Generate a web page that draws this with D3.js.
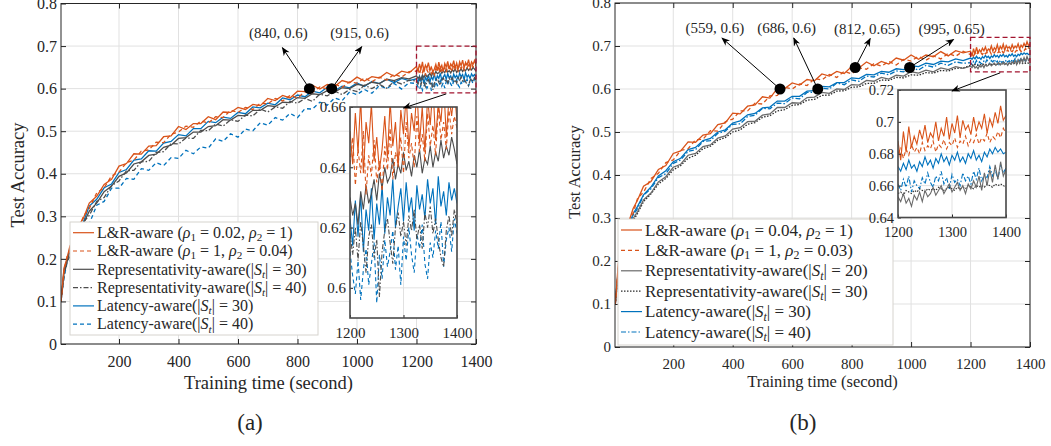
<!DOCTYPE html>
<html>
<head>
<meta charset="utf-8">
<script src="https://cdn.jsdelivr.net/npm/d3@7"></script>
<style>
body { margin: 0; background: #fff; }
svg { display: block; }
text { font-family: "Liberation Serif", "Times New Roman", serif; fill: #262626; }
</style>
</head>
<body>
<svg id="fig" width="1051" height="446"></svg>
<script>
// time axis (seconds)
var tMain = [5,15,25,35,50,65,80,100,125,150,175,200,225,250,275,300,325,350,375,400,425,450,475,500,525,550,575,600,625,650,675,700,725,750,775,800,825,850,875,900,925,950,975,1000,1025,1050,1075,1100,1125,1150,1175];
var tZoom = [1200,1205,1210,1215,1220,1225,1230,1235,1240,1245,1250,1255,1260,1265,1270,1275,1280,1285,1290,1295,1300,1305,1310,1315,1320,1325,1330,1335,1340,1345,1350,1355,1360,1365,1370,1375,1380,1385,1390,1395,1400];

// panel (a)
var aR1 = [0.100,0.178,0.201,0.230,0.248,0.279,0.295,0.331,0.347,0.375,0.387,0.418,0.424,0.447,0.446,0.465,0.466,0.487,0.489,0.511,0.504,0.518,0.518,0.534,0.527,0.545,0.544,0.556,0.551,0.563,0.560,0.577,0.572,0.584,0.578,0.594,0.593,0.608,0.599,0.610,0.605,0.619,0.614,0.627,0.618,0.628,0.625,0.638,0.629,0.641,0.637];
var aR2 = [0.100,0.170,0.205,0.219,0.251,0.269,0.300,0.318,0.355,0.367,0.395,0.404,0.426,0.432,0.453,0.456,0.474,0.473,0.493,0.498,0.512,0.509,0.524,0.519,0.534,0.532,0.549,0.544,0.556,0.551,0.566,0.564,0.577,0.571,0.584,0.578,0.593,0.591,0.604,0.599,0.611,0.603,0.616,0.613,0.625,0.616,0.627,0.620,0.634,0.627,0.640];
var aG1 = [0.100,0.167,0.192,0.218,0.236,0.266,0.282,0.312,0.331,0.358,0.371,0.394,0.402,0.423,0.428,0.443,0.446,0.462,0.467,0.483,0.485,0.498,0.498,0.511,0.513,0.527,0.526,0.537,0.536,0.549,0.549,0.560,0.558,0.568,0.567,0.579,0.577,0.588,0.586,0.595,0.592,0.602,0.600,0.610,0.607,0.615,0.612,0.622,0.619,0.626,0.623];
var aG2 = [0.100,0.159,0.194,0.205,0.236,0.253,0.286,0.302,0.335,0.344,0.372,0.383,0.407,0.408,0.428,0.429,0.450,0.452,0.471,0.470,0.484,0.483,0.502,0.501,0.517,0.512,0.527,0.523,0.538,0.536,0.552,0.545,0.557,0.554,0.570,0.566,0.577,0.570,0.587,0.583,0.594,0.586,0.598,0.593,0.608,0.600,0.610,0.601,0.617,0.611,0.620];
var aB1 = [0.100,0.174,0.197,0.225,0.239,0.271,0.286,0.324,0.340,0.367,0.376,0.403,0.410,0.432,0.435,0.454,0.453,0.472,0.476,0.492,0.489,0.506,0.506,0.523,0.520,0.533,0.530,0.544,0.541,0.557,0.555,0.566,0.562,0.578,0.574,0.585,0.581,0.594,0.590,0.603,0.595,0.606,0.602,0.613,0.605,0.617,0.612,0.622,0.614,0.624,0.619];
var aB2 = [0.100,0.156,0.190,0.194,0.224,0.233,0.267,0.282,0.326,0.335,0.366,0.366,0.389,0.387,0.412,0.408,0.426,0.419,0.438,0.436,0.455,0.447,0.463,0.460,0.482,0.476,0.494,0.486,0.505,0.501,0.520,0.514,0.532,0.526,0.542,0.532,0.553,0.552,0.568,0.561,0.578,0.572,0.592,0.586,0.598,0.589,0.607,0.600,0.612,0.599,0.614];
var aR1z = [0.652,0.641,0.658,0.645,0.663,0.638,0.655,0.648,0.661,0.642,0.650,0.639,0.646,0.657,0.643,0.662,0.647,0.655,0.640,0.659,0.651,0.664,0.646,0.658,0.652,0.666,0.648,0.660,0.645,0.663,0.654,0.667,0.649,0.661,0.655,0.668,0.650,0.663,0.657,0.666,0.655];
var aR2z = [0.641,0.650,0.634,0.646,0.638,0.652,0.631,0.644,0.637,0.649,0.635,0.642,0.632,0.647,0.639,0.653,0.636,0.645,0.641,0.650,0.638,0.655,0.643,0.648,0.640,0.657,0.645,0.651,0.642,0.658,0.647,0.654,0.644,0.660,0.649,0.655,0.646,0.659,0.651,0.657,0.653];
var aG1z = [0.630,0.624,0.628,0.621,0.632,0.626,0.634,0.628,0.631,0.636,0.629,0.638,0.633,0.640,0.635,0.637,0.643,0.636,0.641,0.638,0.645,0.639,0.642,0.637,0.644,0.640,0.646,0.638,0.643,0.641,0.647,0.640,0.645,0.642,0.649,0.643,0.647,0.644,0.650,0.646,0.641];
var aG2z = [0.618,0.611,0.620,0.609,0.622,0.614,0.605,0.617,0.621,0.610,0.616,0.597,0.612,0.619,0.623,0.615,0.608,0.620,0.625,0.617,0.622,0.614,0.624,0.619,0.626,0.616,0.621,0.613,0.625,0.620,0.627,0.618,0.623,0.616,0.610,0.607,0.619,0.624,0.617,0.626,0.621];
var aB1z = [0.623,0.614,0.629,0.617,0.631,0.612,0.626,0.619,0.633,0.616,0.628,0.621,0.634,0.618,0.630,0.624,0.636,0.620,0.627,0.633,0.622,0.635,0.625,0.630,0.619,0.634,0.626,0.631,0.623,0.636,0.628,0.633,0.621,0.637,0.627,0.632,0.624,0.635,0.629,0.633,0.628];
var aB2z = [0.612,0.604,0.598,0.609,0.596,0.606,0.613,0.601,0.608,0.615,0.595,0.611,0.603,0.616,0.607,0.612,0.619,0.606,0.614,0.601,0.617,0.609,0.620,0.611,0.605,0.618,0.613,0.621,0.608,0.603,0.615,0.610,0.619,0.613,0.622,0.607,0.616,0.620,0.612,0.623,0.618];
var namesA = ["L&R-aware (ρ1 = 0.02, ρ2 = 1)", "L&R-aware (ρ1 = 1, ρ2 = 0.04)", "Representativity-aware(|S_t| = 30)", "Representativity-aware(|S_t| = 40)", "Latency-aware(|S_t| = 30)", "Latency-aware(|S_t| = 40)"];
var marksA = [[840, 0.6], [915, 0.6]];

// panel (b)
var bR1 = [0.100,0.193,0.231,0.267,0.290,0.322,0.342,0.374,0.385,0.413,0.422,0.450,0.456,0.477,0.476,0.493,0.496,0.517,0.521,0.544,0.542,0.560,0.563,0.582,0.579,0.601,0.601,0.614,0.609,0.622,0.619,0.635,0.630,0.641,0.636,0.652,0.649,0.663,0.654,0.664,0.658,0.672,0.667,0.679,0.669,0.679,0.675,0.687,0.677,0.689,0.684];
var bR2 = [0.100,0.184,0.234,0.255,0.292,0.311,0.346,0.360,0.392,0.404,0.429,0.435,0.457,0.461,0.482,0.483,0.503,0.502,0.524,0.530,0.549,0.549,0.567,0.565,0.584,0.585,0.604,0.600,0.612,0.608,0.624,0.621,0.634,0.627,0.641,0.635,0.649,0.646,0.659,0.653,0.664,0.656,0.669,0.665,0.676,0.667,0.677,0.670,0.683,0.676,0.688];
var bG1 = [0.100,0.172,0.209,0.243,0.268,0.299,0.315,0.342,0.358,0.384,0.396,0.418,0.425,0.446,0.450,0.466,0.470,0.486,0.491,0.507,0.510,0.524,0.525,0.539,0.542,0.557,0.557,0.568,0.567,0.580,0.581,0.592,0.590,0.600,0.599,0.610,0.609,0.620,0.618,0.627,0.623,0.632,0.630,0.640,0.637,0.644,0.640,0.649,0.645,0.652,0.648];
var bG2 = [0.100,0.168,0.205,0.237,0.264,0.293,0.311,0.338,0.356,0.379,0.392,0.412,0.422,0.439,0.446,0.461,0.467,0.481,0.487,0.500,0.505,0.518,0.522,0.534,0.538,0.549,0.552,0.562,0.564,0.574,0.576,0.585,0.586,0.595,0.596,0.604,0.605,0.613,0.613,0.621,0.620,0.627,0.626,0.633,0.632,0.638,0.637,0.643,0.642,0.648,0.649];
var bB1 = [0.100,0.182,0.222,0.255,0.280,0.310,0.327,0.354,0.372,0.398,0.410,0.431,0.439,0.459,0.464,0.480,0.485,0.500,0.505,0.521,0.526,0.540,0.543,0.556,0.558,0.572,0.572,0.583,0.583,0.595,0.596,0.606,0.605,0.615,0.615,0.626,0.624,0.634,0.633,0.641,0.639,0.647,0.645,0.654,0.652,0.660,0.657,0.665,0.663,0.670,0.666];
var bB2 = [0.100,0.179,0.218,0.252,0.275,0.306,0.322,0.353,0.368,0.394,0.403,0.427,0.435,0.455,0.459,0.478,0.480,0.497,0.502,0.518,0.519,0.536,0.539,0.555,0.554,0.567,0.566,0.579,0.577,0.592,0.592,0.602,0.600,0.614,0.610,0.621,0.618,0.630,0.628,0.637,0.633,0.642,0.640,0.650,0.644,0.655,0.651,0.660,0.655,0.663,0.660];
var bR1z = [0.688,0.676,0.694,0.681,0.697,0.684,0.691,0.686,0.695,0.689,0.698,0.687,0.693,0.690,0.700,0.688,0.696,0.691,0.703,0.689,0.699,0.693,0.704,0.690,0.701,0.695,0.698,0.692,0.703,0.694,0.700,0.696,0.705,0.693,0.702,0.697,0.706,0.699,0.710,0.701,0.704];
var bR2z = [0.680,0.684,0.677,0.683,0.679,0.686,0.681,0.684,0.680,0.687,0.682,0.685,0.683,0.688,0.681,0.686,0.684,0.689,0.683,0.687,0.685,0.690,0.684,0.688,0.686,0.691,0.685,0.689,0.687,0.692,0.686,0.690,0.688,0.693,0.687,0.691,0.689,0.694,0.690,0.696,0.693];
var bG1z = [0.653,0.650,0.655,0.649,0.652,0.647,0.654,0.651,0.656,0.650,0.657,0.653,0.655,0.659,0.654,0.657,0.660,0.655,0.658,0.661,0.656,0.659,0.662,0.657,0.660,0.655,0.661,0.658,0.663,0.659,0.666,0.657,0.668,0.660,0.670,0.662,0.673,0.664,0.675,0.666,0.670];
var bG2z = [0.655,0.656,0.654,0.657,0.656,0.655,0.657,0.656,0.658,0.657,0.656,0.658,0.657,0.658,0.657,0.659,0.658,0.657,0.658,0.659,0.658,0.657,0.659,0.658,0.659,0.658,0.660,0.659,0.658,0.660,0.659,0.660,0.659,0.661,0.660,0.659,0.661,0.660,0.661,0.660,0.659];
var bB1z = [0.672,0.669,0.674,0.670,0.676,0.671,0.673,0.669,0.675,0.672,0.678,0.673,0.676,0.671,0.677,0.674,0.680,0.675,0.678,0.673,0.679,0.676,0.681,0.675,0.678,0.674,0.680,0.677,0.682,0.676,0.679,0.675,0.681,0.678,0.683,0.680,0.684,0.681,0.683,0.680,0.681];
var bB2z = [0.661,0.657,0.664,0.659,0.666,0.656,0.663,0.660,0.658,0.665,0.661,0.668,0.662,0.659,0.666,0.663,0.669,0.661,0.665,0.658,0.667,0.662,0.664,0.660,0.668,0.663,0.666,0.661,0.669,0.664,0.671,0.663,0.667,0.665,0.672,0.666,0.670,0.664,0.673,0.668,0.671];
var namesB = ["L&R-aware (ρ1 = 0.04, ρ2 = 1)", "L&R-aware (ρ1 = 1, ρ2 = 0.03)", "Representativity-aware(|S_t| = 20)", "Representativity-aware(|S_t| = 30)", "Latency-aware(|S_t| = 30)", "Latency-aware(|S_t| = 40)"];
var marksB = [[559, 0.6], [686, 0.6], [812, 0.65], [995, 0.65]];

// ticks
var xTicks = [200, 400, 600, 800, 1000, 1200, 1400];
var yTicks = [0, 0.1, 0.2, 0.3, 0.4, 0.5, 0.6, 0.7, 0.8];
var zoomXTicks = [1200, 1300, 1400];
var zoomYTicksA = [0.6, 0.62, 0.64, 0.66];
var zoomYTicksB = [0.64, 0.66, 0.68, 0.7, 0.72];
var zoomBoxA = [[1200, 1400], [0.59, 0.70]];
var zoomBoxB = [[1200, 1400], [0.64, 0.72]];

var red = "#D95319", blue = "#0072BD";
var svg = d3.select("#fig");
var defs = svg.append("defs");
defs.append("marker").attr("id", "head").attr("viewBox", "0 0 10 8")
    .attr("refX", 9).attr("refY", 4).attr("markerWidth", 9).attr("markerHeight", 7)
    .attr("markerUnits", "userSpaceOnUse").attr("orient", "auto")
    .append("path").attr("d", "M0,0 L10,4 L0,8 L3,4 z").attr("fill", "#000");

// text with italic symbols and subscripts
var addRich = function(sel, str, fs)
{
    var parts = str.split(/(ρ\d|S_t)/), shift = 0;
    parts.forEach(function(part){
        if (part === "") return;
        if (/^ρ\d$/.test(part) || part === "S_t") {
            var main = part === "S_t" ? "S" : "ρ";
            var sub = part === "S_t" ? "t" : part.charAt(1);
            sel.append("tspan").attr("font-style", "italic").attr("dy", -shift).text(main);
            sel.append("tspan").attr("font-size", fs * 0.7).attr("dy", fs * 0.2)
               .attr("font-style", part === "S_t" ? "italic" : null).text(sub);
            shift = fs * 0.2;
        } else {
            sel.append("tspan").attr("dy", -shift).text(part);
            shift = 0;
        }
    });
}

var styleAxis = function(g, fs)
{
    g.select(".domain").remove();
    g.selectAll("line").attr("stroke", "#262626");
    g.selectAll("text").attr("font-size", fs).attr("fill", "#262626");
}

var drawPanel = function(p)
{
    var g = svg.append("g");
    var x = d3.scaleLinear().domain(p.xDomain).range([p.left, p.right]);
    var y = d3.scaleLinear().domain([0, 0.8]).range([p.bottom, p.top]);

    g.append("g").selectAll("line").data(xTicks).enter().append("line")
        .attr("x1", function(d){ return x(d); }).attr("x2", function(d){ return x(d); })
        .attr("y1", p.top).attr("y2", p.bottom).attr("stroke", "#e1e1e1");
    g.append("g").selectAll("line").data(yTicks).enter().append("line")
        .attr("y1", function(d){ return y(d); }).attr("y2", function(d){ return y(d); })
        .attr("x1", p.left).attr("x2", p.right).attr("stroke", "#e1e1e1");

    defs.append("clipPath").attr("id", "clip" + p.id).append("rect")
        .attr("x", p.left).attr("y", p.top).attr("width", p.right - p.left).attr("height", p.bottom - p.top);

    var line = d3.line().x(function(d){ return x(d[0]); }).y(function(d){ return y(d[1]); });
    var lines = g.append("g").attr("clip-path", "url(#clip" + p.id + ")");
    p.series.slice().reverse().forEach(function(s){
        var pts = tMain.concat(tZoom).map(function(t, i){ return [t, s.main.concat(s.zoom)[i]]; });
        lines.append("path").attr("d", line(pts)).attr("fill", "none")
            .attr("stroke", s.color).attr("stroke-width", 1.3).attr("stroke-dasharray", s.dash);
    });

    // axes, ticks pointing inward on all four sides
    g.append("g").attr("transform", "translate(0," + p.bottom + ")")
        .call(d3.axisBottom(x).tickValues(xTicks).tickFormat(d3.format("d")).tickSize(-5).tickPadding(p.xPad))
        .call(styleAxis, p.tickFont);
    g.append("g").attr("transform", "translate(0," + p.top + ")")
        .call(d3.axisTop(x).tickValues(xTicks).tickFormat("").tickSize(-5)).call(styleAxis, p.tickFont);
    g.append("g").attr("transform", "translate(" + p.left + ",0)")
        .call(d3.axisLeft(y).tickValues(yTicks).tickFormat(d3.format(".1~f")).tickSize(-5).tickPadding(4))
        .call(styleAxis, p.tickFont);
    g.append("g").attr("transform", "translate(" + p.right + ",0)")
        .call(d3.axisRight(y).tickValues(yTicks).tickFormat("").tickSize(-5)).call(styleAxis, p.tickFont);
    g.append("rect").attr("x", p.left).attr("y", p.top).attr("width", p.right - p.left)
        .attr("height", p.bottom - p.top).attr("fill", "none").attr("stroke", "#262626");

    g.append("text").attr("x", (p.left + p.right) / 2).attr("y", p.xLabelY).attr("text-anchor", "middle")
        .attr("font-size", p.labelFont).text("Training time (second)");
    g.append("text").attr("transform", "translate(" + p.yLabelX + "," + p.yLabelY + ") rotate(-90)")
        .attr("text-anchor", "middle").attr("font-size", p.labelFont).text("Test Accuracy");
    g.append("text").attr("x", p.capX).attr("y", 430).attr("text-anchor", "middle")
        .attr("font-size", 23).text(p.caption);

    // annotated points
    p.marks.forEach(function(m, i){
        var cx = x(m[0]), cy = y(m[1]), o = p.markLayout[i];
        g.append("line").attr("x1", cx).attr("y1", cy).attr("x2", cx + o[0]).attr("y2", cy + o[1])
            .attr("stroke", "#000").attr("stroke-width", 1).attr("marker-end", "url(#head)");
        g.append("circle").attr("cx", cx).attr("cy", cy).attr("r", 5.5).attr("fill", "#000");
        g.append("text").attr("x", cx + o[2]).attr("y", cy + o[3]).attr("text-anchor", "middle")
            .attr("dy", "0.35em").attr("font-size", 15).text("(" + m[0] + ", " + m[1] + ")");
    });

    // zoom box
    var zb = p.zoomBox;
    g.append("rect").attr("x", x(zb[0][0])).attr("y", y(zb[1][1]))
        .attr("width", x(zb[0][1]) - x(zb[0][0])).attr("height", y(zb[1][0]) - y(zb[1][1]))
        .attr("fill", "none").attr("stroke", "#A2142F").attr("stroke-width", 1.3).attr("stroke-dasharray", "5,3");

    // legend
    var L = p.legend;
    g.append("rect").attr("x", L.x0).attr("y", L.y0).attr("width", L.x1 - L.x0).attr("height", L.y1 - L.y0)
        .attr("fill", "#fff").attr("stroke", "#d6d3ce");
    p.series.forEach(function(s, i){
        var ry = L.row0 + i * L.step;
        g.append("line").attr("x1", L.x0 + 3).attr("x2", L.x0 + 24).attr("y1", ry).attr("y2", ry)
            .attr("stroke", s.color).attr("stroke-width", 1.2).attr("stroke-dasharray", s.dash);
        var t = g.append("text").attr("x", L.x0 + 27).attr("y", ry + L.fs * 0.33).attr("font-size", L.fs);
        addRich(t, s.name, L.fs);
    });

    // inset
    var I = p.inset;
    var xi = d3.scaleLinear().domain([1200, 1400]).range([I.left, I.right]);
    var yi = d3.scaleLinear().domain(I.yDomain).range([I.bottom, I.top]);
    var ig = g.append("g");
    ig.append("rect").attr("x", I.left).attr("y", I.top).attr("width", I.right - I.left)
        .attr("height", I.bottom - I.top).attr("fill", "#fff");
    ig.append("g").selectAll("line").data(zoomXTicks).enter().append("line")
        .attr("x1", function(d){ return xi(d); }).attr("x2", function(d){ return xi(d); })
        .attr("y1", I.top).attr("y2", I.bottom).attr("stroke", "#e1e1e1");
    ig.append("g").selectAll("line").data(I.yTicks).enter().append("line")
        .attr("y1", function(d){ return yi(d); }).attr("y2", function(d){ return yi(d); })
        .attr("x1", I.left).attr("x2", I.right).attr("stroke", "#e1e1e1");
    defs.append("clipPath").attr("id", "iclip" + p.id).append("rect")
        .attr("x", I.left).attr("y", I.top).attr("width", I.right - I.left).attr("height", I.bottom - I.top);
    var iline = d3.line().x(function(d){ return xi(d[0]); }).y(function(d){ return yi(d[1]); });
    var il = ig.append("g").attr("clip-path", "url(#iclip" + p.id + ")");
    p.series.slice().reverse().forEach(function(s){
        var pts = tZoom.map(function(t, i){ return [t, s.zoom[i]]; });
        il.append("path").attr("d", iline(pts)).attr("fill", "none")
            .attr("stroke", s.color).attr("stroke-width", 1.1).attr("stroke-dasharray", s.dash);
    });
    ig.append("g").attr("transform", "translate(0," + I.bottom + ")")
        .call(d3.axisBottom(xi).tickValues(zoomXTicks).tickFormat(d3.format("d")).tickSize(-3).tickPadding(9))
        .call(styleAxis, I.fs);
    ig.append("g").attr("transform", "translate(" + I.left + ",0)")
        .call(d3.axisLeft(yi).tickValues(I.yTicks).tickFormat(d3.format(".2~f")).tickSize(-3).tickPadding(4))
        .call(styleAxis, I.fs);
    ig.append("rect").attr("x", I.left).attr("y", I.top).attr("width", I.right - I.left)
        .attr("height", I.bottom - I.top).attr("fill", "none").attr("stroke", "#4a4a4a").attr("stroke-width", 1.6);

    // arrow from zoom box to inset
    g.append("line").attr("x1", (x(zb[0][0]) + x(zb[0][1])) / 2).attr("y1", y(zb[1][0]) + 1)
        .attr("x2", xi(1300)).attr("y2", I.top + 1)
        .attr("stroke", "#000").attr("marker-end", "url(#head)");
}

drawPanel({
    id: "a", left: 61, right: 476, top: 3.5, bottom: 344, xDomain: [5, 1400],
    tickFont: 16, xPad: 12, labelFont: 18.5, xLabelY: 389, yLabelX: 24, yLabelY: 175,
    capX: 250, caption: "(a)",
    series: [
        { name: namesA[0], main: aR1, zoom: aR1z, color: red, dash: null },
        { name: namesA[1], main: aR2, zoom: aR2z, color: red, dash: "4,3" },
        { name: namesA[2], main: aG1, zoom: aG1z, color: "#4d4d4d", dash: null },
        { name: namesA[3], main: aG2, zoom: aG2z, color: "#4d4d4d", dash: "5,2,1.5,2" },
        { name: namesA[4], main: aB1, zoom: aB1z, color: blue, dash: null },
        { name: namesA[5], main: aB2, zoom: aB2z, color: blue, dash: "4,3" }
    ],
    marks: marksA, markLayout: [[-27, -41, -31, -56], [30, -42, 28, -56]],
    zoomBox: zoomBoxA,
    legend: { x0: 70, x1: 318, y0: 222, y1: 335, row0: 232.7, step: 18.3, fs: 16 },
    inset: { left: 350, right: 457, top: 107, bottom: 318, yDomain: [0.59, 0.66], yTicks: zoomYTicksA, fs: 15 }
});

drawPanel({
    id: "b", left: 615, right: 1030, top: 3, bottom: 347, xDomain: [4, 1400],
    tickFont: 15, xPad: 11, labelFont: 16.5, xLabelY: 387, yLabelX: 580, yLabelY: 172,
    capX: 803, caption: "(b)",
    series: [
        { name: namesB[0], main: bR1, zoom: bR1z, color: red, dash: null },
        { name: namesB[1], main: bR2, zoom: bR2z, color: red, dash: "4,3" },
        { name: namesB[2], main: bG1, zoom: bG1z, color: "#6a6a6a", dash: null },
        { name: namesB[3], main: bG2, zoom: bG2z, color: "#2a2a2a", dash: "1.5,1.5" },
        { name: namesB[4], main: bB1, zoom: bB1z, color: blue, dash: null },
        { name: namesB[5], main: bB2, zoom: bB2z, color: blue, dash: "5,2,1.5,2" }
    ],
    marks: marksB, markLayout: [[-58, -51, -65, -61], [-24, -51, -31, -61], [15, -29, 12, -39], [44, -28, 42, -39]],
    zoomBox: zoomBoxB,
    legend: { x0: 618, x1: 893, y0: 219, y1: 345, row0: 230, step: 20.4, fs: 17 },
    inset: { left: 898, right: 1006, top: 90, bottom: 217.5, yDomain: [0.64, 0.72], yTicks: zoomYTicksB, fs: 14.5 }
});
</script>
</body>
</html>
